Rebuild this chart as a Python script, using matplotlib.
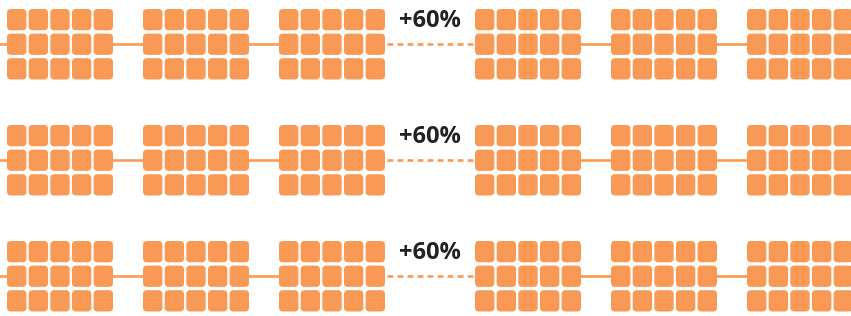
import matplotlib.pyplot as plt
from matplotlib.patches import FancyBboxPatch

# --- data ---
row_labels = ["+60%", "+60%", "+60%"]
groups_before = [3, 3, 3]   # clusters left of the dashed link
groups_after = [3, 3, 3]    # clusters right of the dashed link
unit_cols = 5
unit_rows = 3

# --- layout (pixels) ---
W, H = 851, 316
color = '#F89A56'
row_top = [9, 125, 241]
group_left_before = [7, 143, 279]
group_left_after = [475, 611, 747]
sq_w, sq_h = 19.4, 21.3
pitch_x, pitch_y = 21.65, 24.6
group_w = sq_w + pitch_x * (unit_cols - 1)

fig = plt.figure(figsize=(W / 100, H / 100), dpi=100)
ax = fig.add_axes([0, 0, 1, 1])
ax.set_xlim(0, W)
ax.set_ylim(H, 0)
ax.axis('off')


def draw_group(x0, y0):
    for r in range(unit_rows):
        for c in range(unit_cols):
            ax.add_patch(FancyBboxPatch((x0 + c * pitch_x, y0 + r * pitch_y), sq_w, sq_h,
                                        boxstyle="round,pad=0,rounding_size=4",
                                        facecolor=color, edgecolor='none', zorder=3))


for i, label in enumerate(row_labels):
    y0 = row_top[i]
    ymid = y0 + pitch_y + sq_h / 2
    lefts = group_left_before[:groups_before[i]] + group_left_after[:groups_after[i]]
    for x0 in lefts:
        draw_group(x0, y0)

    # solid links between neighbouring clusters
    ax.plot([0, lefts[0]], [ymid, ymid], color=color, lw=1.9, zorder=2)
    for a, b in zip(lefts[:-1], lefts[1:]):
        if a == group_left_before[-1]:
            continue
        ax.plot([a + group_w, b], [ymid, ymid], color=color, lw=1.9, zorder=2)

    # dashed link with label
    xa = group_left_before[-1] + group_w
    xb = group_left_after[0]
    ax.plot([xa + 2, xb - 2], [ymid, ymid], color=color, lw=1.9,
            linestyle=(0, (2.2, 1.6)), zorder=2)
    ax.text((xa + xb) / 2, y0 + 12, label, ha='center', va='center',
            fontsize=17, fontweight='bold', family='Open Sans', color='#222222')

fig.savefig('out.png', dpi=100)
